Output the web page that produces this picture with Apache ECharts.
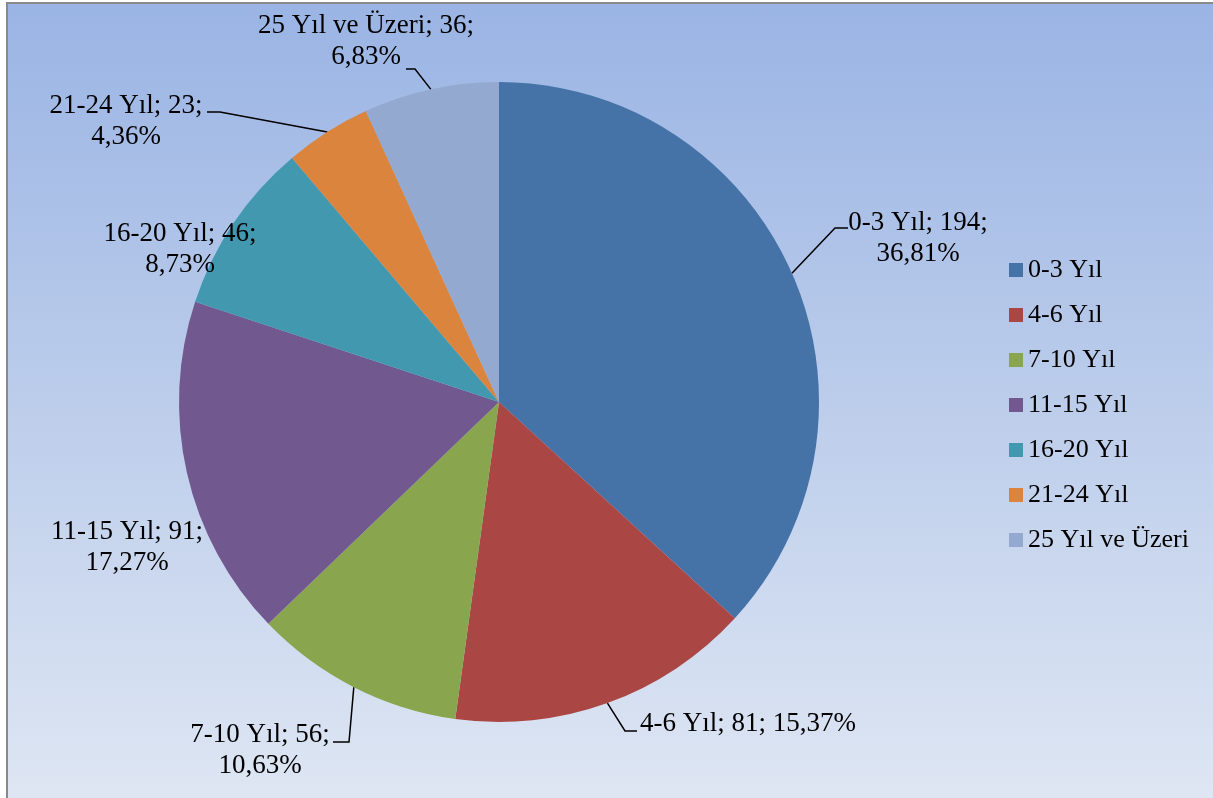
<!DOCTYPE html>
<html>
<head>
<meta charset="utf-8">
<script src="https://cdn.jsdelivr.net/npm/echarts@6/dist/echarts.min.js"></script>
<style>
  html, body { margin: 0; padding: 0; background: #fff; overflow: hidden; }
  .frame {
    position: absolute;
    left: 6px;
    top: 2px;
    width: 1207px;
    height: 796px;
    border-left: 2px solid #8a8a8a;
    border-top: 2px solid #8a8a8a;
    background: linear-gradient(to bottom, #9ab4e4 0%, #bccdeb 50%, #dee6f3 100%);
  }
  #chart {
    position: absolute;
    left: 0;
    top: 0;
    width: 1213px;
    height: 798px;
  }
</style>
</head>
<body>
<div class="frame"></div>
<div id="chart"></div>
<script>
const categories = ['0-3 Yıl', '4-6 Yıl', '7-10 Yıl', '11-15 Yıl', '16-20 Yıl', '21-24 Yıl', '25 Yıl ve Üzeri']
const values = [194, 81, 56, 91, 46, 23, 36]
const colors = ['#4572A7', '#AA4643', '#89A54E', '#71588F', '#4198AF', '#DB843D', '#93A9CF']

// where Excel put each data label (text anchor + leader line bend/end)
const labelAnchors = [
  { x: 918, y: 238, align: 'center', bend: [835, 228], end: [848, 228] },
  { x: 640, y: 724, align: 'left', bend: [625, 731], end: [637, 731], oneLine: true },
  { x: 260, y: 750, align: 'center', bend: [349, 742], end: [333, 742] },
  { x: 127, y: 547, align: 'center' },
  { x: 180, y: 249, align: 'center' },
  { x: 126, y: 121, align: 'center', bend: [220, 112], end: [207, 112] },
  { x: 366, y: 41, align: 'center', bend: [415, 69], end: [406, 69] }
]

const total = values.reduce((a, b) => a + b, 0)
const serif = "'Liberation Serif', 'Times New Roman', serif"

const chart = echarts.init(document.getElementById('chart'))
chart.setOption({
  animation: false,
  color: colors,
  legend: {
    orient: 'vertical',
    left: 1004,
    top: 252,
    icon: 'rect',
    itemWidth: 14,
    itemHeight: 14,
    itemGap: 19,
    selectedMode: false,
    data: categories,
    textStyle: {
      fontFamily: serif,
      fontSize: 26,
      lineHeight: 26,
      color: '#000'
    }
  },
  series: [
    {
      type: 'pie',
      center: [499, 402],
      radius: 320,
      startAngle: 90,
      clockwise: true,
      avoidLabelOverlap: false,
      itemStyle: { borderWidth: 0 },
      label: {
        show: true,
        position: 'outside',
        fontFamily: serif,
        fontSize: 27,
        lineHeight: 31,
        color: '#000',
        formatter: function (p) {
          const pct = (p.value / total * 100).toFixed(2).replace('.', ',')
          const sep = labelAnchors[p.dataIndex].oneLine ? ' ' : '\n'
          return p.name + '; ' + p.value + ';' + sep + pct + '%'
        }
      },
      labelLine: {
        show: true,
        length: 10,
        length2: 10,
        lineStyle: { color: '#000', width: 1.5 }
      },
      labelLayout: function (params) {
        const a = labelAnchors[params.dataIndex]
        const out = { x: a.x, y: a.y, align: a.align, verticalAlign: 'middle' }
        if (a.bend && params.labelLinePoints) {
          out.labelLinePoints = [params.labelLinePoints[0], a.bend, a.end]
        }
        return out
      },
      emphasis: { disabled: true },
      data: categories.map((name, i) => ({
        name: name,
        value: values[i],
        labelLine: { show: !!labelAnchors[i].bend }
      }))
    }
  ]
})
</script>
</body>
</html>
